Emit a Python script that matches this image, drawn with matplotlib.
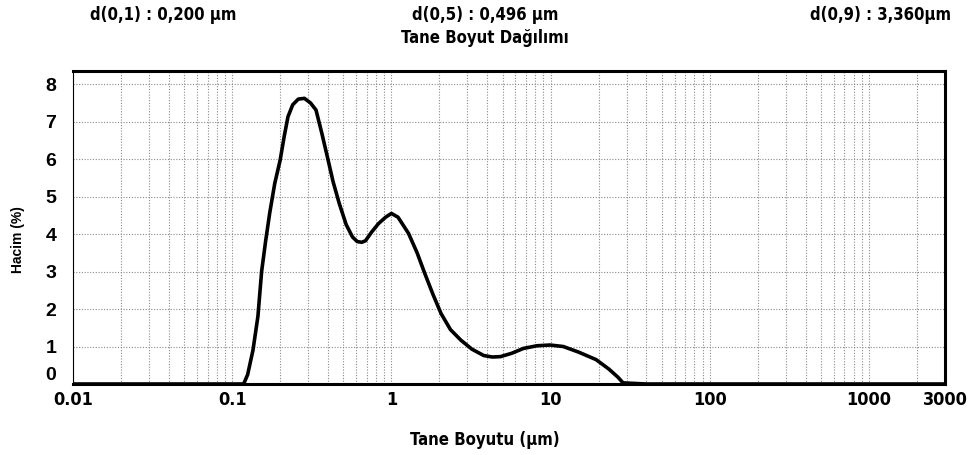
import matplotlib
matplotlib.use("Agg")
import matplotlib.pyplot as plt
from matplotlib import font_manager
import numpy as np

# Data
size_um = [0.01, 0.05, 0.10, 0.118, 0.125, 0.135, 0.145, 0.153, 0.162, 0.172, 0.185, 0.20, 0.212,
           0.224, 0.24, 0.26, 0.284, 0.31, 0.336, 0.365, 0.396, 0.43, 0.47, 0.52, 0.57, 0.61,
           0.65, 0.687, 0.75, 0.83, 0.92, 1.0, 1.1, 1.28, 1.45, 1.62, 1.82, 2.05, 2.35, 2.73,
           3.2, 3.8, 4.3, 4.84, 5.7, 6.76, 8.2, 9.9, 12.0, 15.0, 19.3, 23.2, 26.5, 28.5, 40.0,
           3000.0]
volume_pct = [0.0, 0.0, 0.0, 0.0, 0.25, 0.9, 1.8, 3.0, 3.8, 4.56, 5.35, 5.97, 6.6,
              7.13, 7.45, 7.6, 7.62, 7.5, 7.31, 6.7, 6.06, 5.4, 4.82, 4.25, 3.92, 3.8,
              3.78, 3.82, 4.05, 4.28, 4.45, 4.55, 4.45, 4.02, 3.5, 2.95, 2.4, 1.88, 1.45, 1.17,
              0.93, 0.76, 0.72, 0.73, 0.82, 0.95, 1.02, 1.04, 1.0, 0.85, 0.65, 0.4, 0.18, 0.03, 0.0,
              0.0]

x_ticks = [0.01, 0.1, 1, 10, 100, 1000, 3000]
x_tick_labels = ["0.01", "0.1", "1", "10", "100", "1000", "3000"]
y_ticks = [0, 1, 2, 3, 4, 5, 6, 7, 8]

stat_labels = ["d(0,1) : 0,200 µm", "d(0,5) : 0,496 µm", "d(0,9) : 3,360µm"]
title = "Tane Boyut Dağılımı"
x_label = "Tane Boyutu (µm)"
y_label = "Hacim (%)"

names = {f.name for f in font_manager.fontManager.ttflist}
narrow = "Liberation Sans Narrow" if "Liberation Sans Narrow" in names else "DejaVu Sans"
wide = "Liberation Sans" if "Liberation Sans" in names else "DejaVu Sans"
nkw = dict(family=narrow, fontweight="bold", fontstretch="condensed")

fig = plt.figure(figsize=(9.72, 4.55), dpi=100)
W, H = 972, 455
left, right, top, bottom = 73, 945, 71, 384
ax = fig.add_axes([left / W, 1 - bottom / H, (right - left) / W, (bottom - top) / H])

ax.plot(size_um, volume_pct, color="black", lw=2.6, solid_joinstyle="round",
        solid_capstyle="round", zorder=3)
ax.set_xscale("log")
ax.set_xlim(0.01, 3000)
ax.set_ylim(0, 8.35)

ax.set_xticks(x_ticks)
ax.set_xticklabels(x_tick_labels, fontsize=13, **nkw)
ax.set_yticks(y_ticks)
ax.set_yticklabels([str(v) for v in y_ticks], family=wide, fontweight="bold", fontsize=14)
ax.tick_params(axis="both", length=0)
ax.tick_params(axis="x", pad=5)
ax.tick_params(axis="y", pad=12)
ax.tick_params(axis="x", which="minor", length=0)
ax.get_yticklabels()[0].set_verticalalignment("bottom")

ax.grid(True, which="both", axis="x", color="#8a8a8a", ls=(0, (1, 1.5)), lw=0.8)
ax.grid(True, which="major", axis="y", color="#8a8a8a", ls=(0, (1, 1.5)), lw=0.8)

for s in ["top", "bottom", "right"]:
    ax.spines[s].set_linewidth(2.2)
ax.spines["left"].set_linewidth(0.8)
ax.spines["left"].set_linestyle((0, (1, 1)))

fig.text(163 / W, 1 - 15 / H, stat_labels[0], fontsize=12, ha="center", va="center", **nkw)
fig.text(485 / W, 1 - 15 / H, stat_labels[1], fontsize=12, ha="center", va="center", **nkw)
fig.text(880 / W, 1 - 15 / H, stat_labels[2], fontsize=12, ha="center", va="center", **nkw)
fig.text(485 / W, 1 - 38 / H, title, fontsize=12, ha="center", va="center", **nkw)
fig.text(485 / W, 1 - 440 / H, x_label, fontsize=12, ha="center", va="center", **nkw)
fig.text(18 / W, 1 - 240 / H, y_label, family=wide, fontweight="bold", fontsize=10,
         ha="center", va="center", rotation=90)

fig.savefig("out.png", dpi=100)
